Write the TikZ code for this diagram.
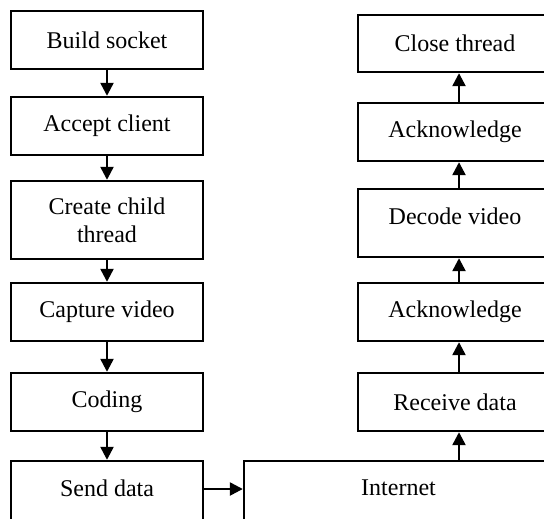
\documentclass[tikz,border=0pt]{standalone}
\usepackage{fontspec}
\setmainfont{Liberation Serif}
\usepackage{tikz}
\usetikzlibrary{arrows.meta}

\begin{document}
\begin{tikzpicture}[x=0.5pt,y=-0.5pt,
  box/.style={draw,line width=1.2pt,minimum width=96pt,minimum height=29pt,
    inner sep=2pt,align=center,font=\fontsize{12}{14}\selectfont},
  freccia/.style={-{Triangle[width=6.5pt,length=6.5pt]},line width=1.2pt}]
  \useasboundingbox (0,0) rectangle (544,518);
  \clip (0,0) rectangle (544,518);

  % lato server
  \node[box] (build) at (107,40) {Build socket};
  \node[box] (accept) at (107,126) {Accept client};
  \node[box,minimum height=39pt] (child) at (107,220) {Create child\\thread};
  \node[box] (capture) at (107,312) {Capture video};
  \node[box] (coding) at (107,402) {Coding};
  \node[box,minimum height=31pt,text depth=4pt] (send) at (107,492) {Send data};

  % rete
  \node[box,minimum width=154.5pt,minimum height=31pt,text depth=4pt] (internet) at (398.5,492) {Internet};

  % lato client
  \node[box,minimum width=97pt] (receive) at (455,402) {Receive data};
  \node[box,minimum width=97pt] (ack2) at (455,312) {Acknowledge};
  \node[box,minimum width=97pt,minimum height=34pt,text depth=7pt] (decode) at (455,223) {Decode video};
  \node[box,minimum width=97pt] (ack1) at (455,132) {Acknowledge};
  \node[box,minimum width=97pt,minimum height=28.5pt] (close) at (455,43.5) {Close thread};

  % frecce
  \draw[freccia] (build.south) -- (accept.north);
  \draw[freccia] (accept.south) -- (child.north);
  \draw[freccia] (child.south) -- (capture.north);
  \draw[freccia] (capture.south) -- (coding.north);
  \draw[freccia] (coding.south) -- (send.north);
  \draw[freccia] ([yshift=1.5pt]send.east) -- ([yshift=1.5pt]internet.west);
  \draw[freccia] ([xshift=2pt]receive.south |- internet.north) -- ([xshift=2pt]receive.south);
  \draw[freccia] ([xshift=2pt]receive.north) -- ([xshift=2pt]ack2.south);
  \draw[freccia] ([xshift=2pt]ack2.north) -- ([xshift=2pt]decode.south);
  \draw[freccia] ([xshift=2pt]decode.north) -- ([xshift=2pt]ack1.south);
  \draw[freccia] ([xshift=2pt]ack1.north) -- ([xshift=2pt]close.south);
\end{tikzpicture}
\end{document}
